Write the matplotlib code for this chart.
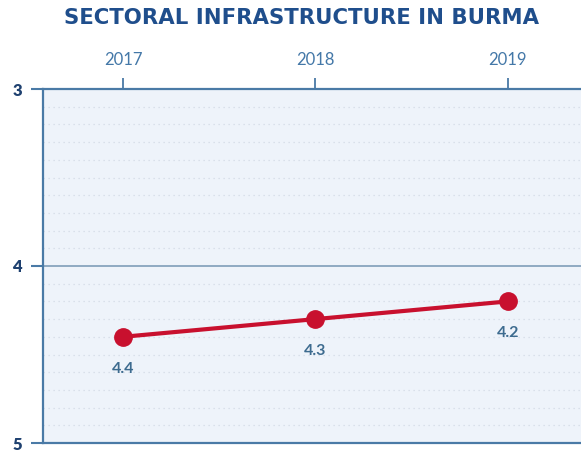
import matplotlib
matplotlib.use("Agg")
import matplotlib.pyplot as plt
from matplotlib.ticker import MultipleLocator

title = "SECTORAL INFRASTRUCTURE IN BURMA"
years = [2017, 2018, 2019]
values = [4.4, 4.3, 4.2]
value_labels = ["4.4", "4.3", "4.2"]
y_ticks = [3, 4, 5]
y_tick_labels = ["3", "4", "5"]

axis_col = "#4a7aa6"
fig = plt.figure(figsize=(5.81, 4.53), dpi=100)
ax = fig.add_axes([43/581, 1-443/453, (581-43)/581, (443-89)/453])
ax.set_facecolor("#eef3fa")

ax.set_xlim(2016.584, 2019.38)
ax.set_ylim(5, 3)

# minor dotted grid
ax.yaxis.set_minor_locator(MultipleLocator(0.1))
ax.grid(which="minor", axis="y", color="#d3dbe6", linestyle=(0, (1, 3)), linewidth=0.9)
ax.axhline(4, color="#8fa9c2", linewidth=1.4, zorder=1)

ax.plot(years, values, color="#c8102e", linewidth=3, marker="o", markersize=12.5, zorder=3)
for x, v, lab in zip(years, values, value_labels):
    ax.annotate(lab, (x, v), xytext=(0, -23), textcoords="offset points",
                ha="center", va="center", fontsize=11.5, color="#3d6b8f",
                family="Lato", fontweight="bold")

ax.xaxis.tick_top()
ax.set_xticks(years)
ax.set_xticklabels([str(y) for y in years], fontsize=12, color="#4478a8", family="Lato")
ax.tick_params(axis="x", which="major", length=8, width=1.3, color=axis_col, pad=7)
ax.set_yticks(y_ticks)
ax.set_yticklabels(y_tick_labels, fontsize=12, color="#1f4170", family="Lato", fontweight="heavy")
ax.tick_params(axis="y", which="major", length=9, width=1.5, color=axis_col, pad=6)
ax.tick_params(axis="y", which="minor", length=0)

for s in ["left", "top", "bottom"]:
    ax.spines[s].set_color(axis_col)
    ax.spines[s].set_linewidth(1.6)
ax.spines["right"].set_visible(False)

fig.text(302/581, 1-18/453, title, ha="center", va="center", fontsize=15.3,
         fontweight="bold", color="#1f4e8c", family="DejaVu Sans")

fig.savefig("out.png", dpi=100)
